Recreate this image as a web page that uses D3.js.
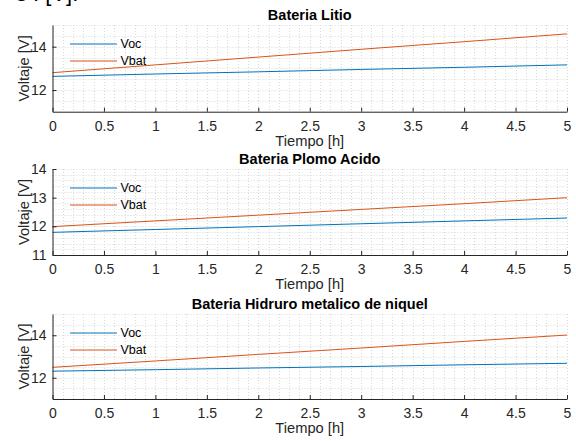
<!DOCTYPE html>
<html>
<head>
<meta charset="utf-8">
<script src="https://cdn.jsdelivr.net/npm/d3@7"></script>
<style>
    body { margin: 0; background: #fff; }
    svg { display: block; font-family: "Liberation Sans", Arial, sans-serif; }
</style>
</head>
<body>
<div id="graphique"></div>
<script>
// donnees
const tiempo = [0, 1, 2, 3, 4, 5];
const xTicks = [0, 0.5, 1, 1.5, 2, 2.5, 3, 3.5, 4, 4.5, 5];
const series = ["Voc", "Vbat"];

const litioVoc = [12.63, 12.74, 12.84, 12.95, 13.05, 13.16];
const litioVbat = [12.80, 13.16, 13.52, 13.88, 14.23, 14.59];

const plomoVoc = [11.79, 11.89, 11.99, 12.09, 12.19, 12.29];
const plomoVbat = [11.99, 12.19, 12.39, 12.59, 12.79, 13.00];

const niquelVoc = [12.31, 12.38, 12.46, 12.53, 12.61, 12.68];
const niquelVbat = [12.49, 12.79, 13.10, 13.40, 13.71, 14.01];

const titulos = ["Bateria Litio", "Bateria Plomo Acido", "Bateria Hidruro metalico de niquel"];
const yDominios = [[11, 15], [11, 14], [11, 15]];
const yTicks = [[12, 14], [11, 12, 13, 14], [12, 14]];
const yMinor = [0.5, 0.2, 0.5];

const colores = ["#0072BD", "#D95319"];
const width = 576, height = 441;

const svg = d3.select("#graphique").append("svg")
    .attr("width", width)
    .attr("height", height);

// bout de texte coupe en haut
svg.append("text")
    .attr("x", 16)
    .attr("y", 1)
    .style("font-size", "22px")
    .style("fill", "#000")
    .text("s : [V].");

function AffichagePanel(idx, top, bottom, voc, vbat) {
    const left = 52.5, right = 567;
    const xScale = d3.scaleLinear().domain([0, 5]).range([left, right]);
    const yScale = d3.scaleLinear().domain(yDominios[idx]).range([bottom, top]);
    const g = svg.append("g");

    // grille mineure
    const xGrid = d3.range(0, 5.0001, 0.1);
    const [y0, y1] = yDominios[idx];
    const yGrid = d3.range(y0, y1 + 0.0001, yMinor[idx]);

    g.selectAll(".vgrid")
        .data(xGrid)
        .enter()
        .append("line")
        .attr("x1", d => Math.round(xScale(d)) + 0.5)
        .attr("x2", d => Math.round(xScale(d)) + 0.5)
        .attr("y1", top)
        .attr("y2", bottom)
        .style("stroke", "#d8d8d8")
        .style("stroke-dasharray", "1,2");

    g.selectAll(".hgrid")
        .data(yGrid)
        .enter()
        .append("line")
        .attr("x1", left)
        .attr("x2", right)
        .attr("y1", d => Math.round(yScale(d)) + 0.5)
        .attr("y2", d => Math.round(yScale(d)) + 0.5)
        .style("stroke", "#d8d8d8")
        .style("stroke-dasharray", "1,2");

    // courbes
    const line = d3.line()
        .x((d, i) => xScale(tiempo[i]))
        .y(d => yScale(d));

    [voc, vbat].forEach((s, i) => {
        g.append("path")
            .datum(s)
            .attr("d", line)
            .style("fill", "none")
            .style("stroke", colores[i])
            .style("stroke-width", 1);
    });

    // axes
    const xAxis = g.append("g")
        .attr("transform", `translate(0,${bottom})`)
        .call(d3.axisBottom(xScale).tickValues(xTicks).tickSizeInner(-4).tickSizeOuter(0).tickPadding(9)
            .tickFormat(d3.format("")));
    xAxis.select(".domain").style("stroke", "#262626");
    xAxis.selectAll("line").style("stroke", "#262626");
    xAxis.selectAll("text")
        .style("fill", "#262626")
        .style("font-size", "14px")
        .style("font-family", "'Liberation Sans', Arial, sans-serif");

    const yAxis = g.append("g")
        .attr("transform", `translate(${left},0)`)
        .call(d3.axisLeft(yScale).tickValues(yTicks[idx]).tickSizeInner(-4).tickSizeOuter(0).tickPadding(6)
            .tickFormat(d3.format("d")));
    yAxis.select(".domain").style("stroke", "#262626");
    yAxis.selectAll("line").style("stroke", "#262626");
    yAxis.selectAll("text")
        .style("fill", "#262626")
        .style("font-size", "14px")
        .style("font-family", "'Liberation Sans', Arial, sans-serif");

    // titre
    g.append("text")
        .attr("x", (left + right) / 2)
        .attr("y", top - 5)
        .attr("text-anchor", "middle")
        .style("font-weight", "bold")
        .style("font-size", "14.5px")
        .style("fill", "#000")
        .text(titulos[idx]);

    // etiquettes
    g.append("text")
        .attr("x", (left + right) / 2)
        .attr("y", bottom + 34)
        .attr("text-anchor", "middle")
        .style("font-size", "14.7px")
        .style("fill", "#262626")
        .text("Tiempo [h]");

    g.append("text")
        .attr("transform", `translate(29,${(top + bottom) / 2}) rotate(-90)`)
        .attr("text-anchor", "middle")
        .style("font-size", "14.7px")
        .style("fill", "#262626")
        .text("Voltaje [V]");

    // legende
    series.forEach((nom, i) => {
        const ly = top + 19 + i * 17;
        g.append("line")
            .attr("x1", 70).attr("x2", 117)
            .attr("y1", ly).attr("y2", ly)
            .style("stroke", colores[i])
            .style("stroke-width", 1);
        g.append("text")
            .attr("x", 120.5)
            .attr("y", ly)
            .attr("dy", "0.35em")
            .style("font-size", "12.5px")
            .style("fill", "#000")
            .text(nom);
    });
}

AffichagePanel(0, 25, 111.7, litioVoc, litioVbat);
AffichagePanel(1, 169, 255, plomoVoc, plomoVbat);
AffichagePanel(2, 314, 399, niquelVoc, niquelVbat);
</script>
</body>
</html>
